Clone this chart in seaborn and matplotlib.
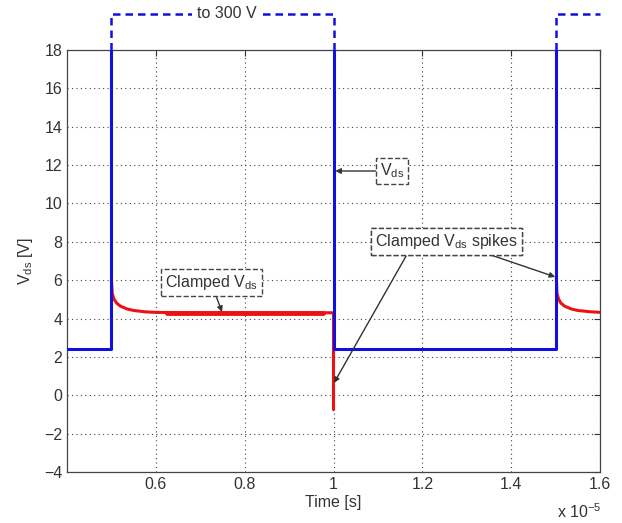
import numpy as np
import pandas as pd
import seaborn as sns
import matplotlib.pyplot as plt

# Vds waveform (blue), time in units of 1e-5 s
t_vds = [0.4, 0.5, 0.5, 1.0, 1.0, 1.5, 1.5, 1.6]
v_vds = [2.4, 2.4, 300, 300, 2.4, 2.4, 300, 300]

# clamped Vds (red), two pieces
t_cl1 = [0.5, 0.502, 0.506, 0.512, 0.52, 0.535, 0.55, 0.575, 0.6, 0.7, 0.85, 1.0, 1.0]
v_cl1 = [6.0, 5.3, 5.0, 4.8, 4.65, 4.5, 4.42, 4.35, 4.32, 4.3, 4.3, 4.3, -0.75]
t_cl2 = [1.5015, 1.503, 1.507, 1.512, 1.52, 1.535, 1.55, 1.575, 1.6]
v_cl2 = [6.2, 5.3, 5.0, 4.8, 4.65, 4.5, 4.42, 4.36, 4.32]
# thicker stretch of the clamped level
t_thick = [0.625, 0.976]
v_thick = [4.3, 4.3]

yticks = list(range(-4, 19, 2))
xticks = [0.6, 0.8, 1.0, 1.2, 1.4, 1.6]
xticklabels = ['0.6', '0.8', '1', '1.2', '1.4', '1.6']

sns.set_style('white')
plt.rcParams['font.family'] = ['Liberation Sans', 'DejaVu Sans']
plt.rcParams['mathtext.fontset'] = 'custom'
plt.rcParams['mathtext.rm'] = 'Liberation Sans'
plt.rcParams['mathtext.it'] = 'Liberation Sans'

df_vds = pd.DataFrame({'t': t_vds, 'v': v_vds})
df_cl = pd.DataFrame({'t': t_cl1 + t_cl2, 'v': v_cl1 + v_cl2,
                      'seg': [1] * len(t_cl1) + [2] * len(t_cl2)})

fig = plt.figure(figsize=(6.22, 5.23), dpi=100)
ax = fig.add_axes([0.1077, 0.0975, 0.857, 0.807])

sns.lineplot(data=df_cl, x='t', y='v', units='seg', estimator=None, sort=False,
             color='#ee1111', linewidth=2.2, ax=ax, zorder=2)
sns.lineplot(x=t_thick, y=v_thick, color='#ee1111', linewidth=3.5, ax=ax, zorder=2)
sns.lineplot(data=df_vds, x='t', y='v', estimator=None, sort=False,
             color='#1010e0', linewidth=2.2, ax=ax, zorder=3)

ax.set_xlim(0.4, 1.6)
ax.set_ylim(-4, 18)
ax.set_yticks(yticks)
ax.set_xticks(xticks)
ax.set_xticklabels(xticklabels)
ax.tick_params(direction='in', top=True, right=True, labelsize=11.5, colors='#333333', length=4)
ax.grid(True, linestyle=(0, (1, 3)), color='#444444', linewidth=0.8)
for s in ax.spines.values():
    s.set_color('#444444')
    s.set_linewidth(0.9)

ax.set_xlabel('Time [s]', fontsize=11.5, color='#333333', labelpad=2)
ax.set_ylabel('V$_{\\rm ds}$ [V]', fontsize=11.5, color='#333333', labelpad=6)
fig.text(0.895, 0.021, 'x 10$^{-5}$', fontsize=11.5, color='#333333', va='center')

# dashed "to 300 V" continuation above the axes
top = 19.88
dash = dict(color='#1010e0', linestyle=(0, (3, 2)), linewidth=1.8, clip_on=False)
ax.plot([0.5, 0.5, 1.0, 1.0], [18, top, top, 18], **dash)
ax.plot([1.5, 1.5, 1.6], [18, top, top], **dash)
ax.text(0.76, top, 'to 300 V', ha='center', va='center', fontsize=11.5, color='#333333',
        bbox=dict(facecolor='white', edgecolor='none', pad=4), clip_on=False)

box = dict(boxstyle='square,pad=0.25', facecolor='white', edgecolor='#444444',
           linestyle='--', linewidth=1)
arr = dict(arrowstyle='-|>', color='#333333', linewidth=1, mutation_scale=8, shrinkA=0, shrinkB=0)

ax.annotate('Clamped V$_{\\rm ds}$', xy=(0.749, 4.34), xytext=(0.726, 5.88),
            ha='center', va='center', fontsize=11.5, color='#333333', bbox=box,
            arrowprops=dict(arr, relpos=(0.53, 0)))
ax.annotate('V$_{\\rm ds}$', xy=(1.004, 11.69), xytext=(1.132, 11.69),
            ha='center', va='center', fontsize=11.5, color='#333333', bbox=box, arrowprops=arr)
ax.annotate('Clamped V$_{\\rm ds}$ spikes', xy=(1.001, 0.64), xytext=(1.254, 8.04),
            ha='center', va='center', fontsize=11.5, color='#333333', bbox=box,
            arrowprops=dict(arr, relpos=(0.24, 0)))
ax.annotate('Clamped V$_{\\rm ds}$ spikes', xy=(1.499, 6.17), xytext=(1.254, 8.04),
            ha='center', va='center', fontsize=11.5, color='#333333', bbox=box,
            arrowprops=dict(arr, relpos=(0.72, 0)))

fig.savefig('out.png', dpi=100)
